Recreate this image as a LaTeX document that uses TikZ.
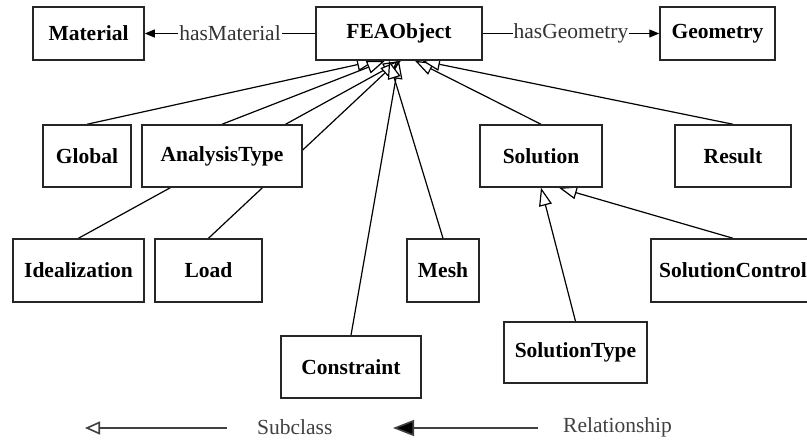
\documentclass[tikz,border=0pt]{standalone}
\usepackage{fontspec}
\setmainfont{Liberation Serif}
\usepackage{tikz}
\usetikzlibrary{arrows.meta, backgrounds}

\tikzset{
  cls/.style={draw=black!85, line width=1.5pt, fill=white, inner sep=0pt,
    font=\bfseries\fontsize{21.5}{24}\selectfont},
  isa/.style={line width=1.2pt, -{Triangle[length=18pt, width=13pt, fill=white]}},
  rel/.style={line width=1.2pt, -{Triangle[length=10pt, width=8pt]}},
  lbl/.style={fill=white, inner sep=1pt, text=black!80, font=\fontsize{21.5}{24}\selectfont},
  keytext/.style={text=black!75, inner sep=0pt, font=\fontsize{21.5}{24}\selectfont},
}

\begin{document}
\begin{tikzpicture}[x=1pt, y=-1pt]
  \useasboundingbox (0,0) rectangle (807,442);
  \clip (0,0) rectangle (807,442);

  % Top row
  \node[cls, minimum width=111, minimum height=53] (material) at (88.5,33.5) {Material};
  \node[cls, minimum width=166, minimum height=53] (fea) at (399,33.5) {FEAObject};
  \node[cls, minimum width=115, minimum height=53] (geometry) at (717.5,33.5) {Geometry};

  % Second row
  \node[cls, minimum width=88, minimum height=62] (global) at (87,156) {Global};
  \node[cls, minimum width=160, minimum height=62] (analysis) at (222,156) {AnalysisType};
  \node[cls, minimum width=122, minimum height=62] (solution) at (541,156) {Solution};
  \node[cls, minimum width=116, minimum height=62] (result) at (733,156) {Result};

  % Third row
  \node[cls, minimum width=131, minimum height=63] (ideal) at (78.5,270.5) {Idealization};
  \node[cls, minimum width=107, minimum height=63] (load) at (208.5,270.5) {Load};
  \node[cls, minimum width=72, minimum height=63] (mesh) at (443,270.5) {Mesh};
  \node[cls, minimum width=164, minimum height=63] (solctrl) at (733,270.5) {SolutionControl};

  % Bottom row
  \node[cls, minimum width=140, minimum height=62] (constraint) at (351,367) {Constraint};
  \node[cls, minimum width=143, minimum height=61] (soltype) at (575.5,352.5) {SolutionType};

  % Relationships
  \draw[rel] (fea.west) -- node[lbl] (hasmat) {hasMaterial} (material.east);
  \draw[rel] (fea.east) -- node[lbl] (hasgeo) {hasGeometry} (geometry.west);

  % Subclass links, behind the boxes
  \begin{scope}[on background layer]
    \draw[isa] (global.north) -- ([xshift=-24]fea.south);
    \draw[isa] (analysis.north) -- ([xshift=-14]fea.south);
    \draw[isa] (ideal.north) -- ([xshift=2]fea.south);
    \draw[isa] (load.north) -- ([xshift=-1]fea.south);
    \draw[isa] (constraint.north) -- ([xshift=0]fea.south);
    \draw[isa] (mesh.north) -- ([xshift=-10]fea.south);
    \draw[isa] (solution.north) -- ([xshift=16]fea.south);
    \draw[isa] (result.north) -- ([xshift=23]fea.south);
    \draw[isa] (soltype.north) -- (solution.south);
    \draw[isa] (solctrl.north) -- ([xshift=18]solution.south);
  \end{scope}

  % Key
  \coordinate (subtip) at (85,428);
  \coordinate (subtail) at (227,428);
  \coordinate (reltip) at (393,428);
  \coordinate (reltail) at (538,428);
  \draw[line width=1.6pt, black!75, -{Triangle[length=15pt, width=13pt, fill=white]}] (subtail) -- (subtip);
  \draw[line width=1.6pt, black!75, -{Triangle[length=21pt, width=16pt, fill=black]}] (reltail) -- (reltip);
  \node[keytext, anchor=west] (subkey) at (257,427) {Subclass};
  \node[keytext, anchor=west] (relkey) at (563,427) {Relationship};
\end{tikzpicture}
\end{document}
